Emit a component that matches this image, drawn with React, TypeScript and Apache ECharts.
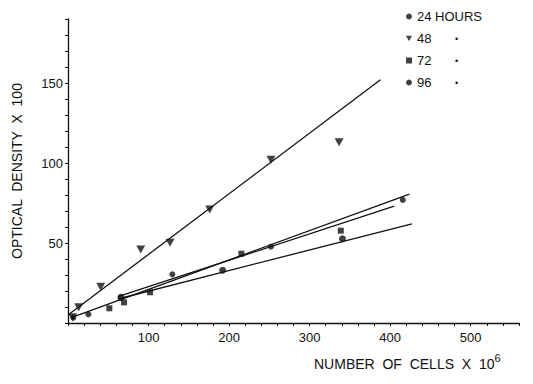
import React, { useEffect, useRef } from "react";
import * as echarts from "echarts";

// Series data: [cells x 10^6, optical density x 100]
const h24X = [6.6, 25.3, 129.6, 252, 415.7];
const h24Y = [3.3, 5.4, 30.4, 47.7, 76.9];
const h48X = [5.8, 13.3, 40.6, 90.3, 126.7, 176, 252, 336.6];
const h48Y = [3.6, 9.8, 22.7, 46, 50.2, 71, 102, 113];
const h72X = [51.3, 69.6, 101.9, 215.3, 338.7];
const h72Y = [9.2, 12.9, 19.2, 43.3, 57.7];
const h96X = [65.8, 192, 340.8];
const h96Y = [16, 33, 52.7];

// Fitted lines (endpoints)
const fit24X = [5, 424];
const fit24Y = [3.5, 80.6];
const fit48X = [0, 388];
const fit48Y = [5, 152];
const fit72X = [62, 405];
const fit72Y = [16.5, 73];
const fit96X = [62, 427];
const fit96Y = [15, 62];

const legendNames = ["24 HOURS", "48", "72", "96"];
const xLabels = [100, 200, 300, 400, 500];
const yLabels = [50, 100, 150];

const zip = (xs: number[], ys: number[]) => xs.map((x, i) => [x, ys[i]]);

const FONT = "Liberation Sans";
const INK = "#111";
const TRI = "path://M0,0L10,0L5,9Z";

export default function App() {
  const ref = useRef<HTMLDivElement>(null);
  useEffect(() => {
    if (!ref.current) return;
    const chart = echarts.init(ref.current, null, { renderer: "svg" });
    const fitLine = (name: string, xs: number[], ys: number[]) => ({
      name,
      type: "line",
      data: zip(xs, ys),
      symbol: "none",
      lineStyle: { color: INK, width: 1.3 },
      silent: true,
      z: 1,
    });
    chart.setOption({
      animation: false,
      backgroundColor: "#fff",
      textStyle: { fontFamily: FONT },
      grid: { left: 68, top: 19, width: 451, height: 304 },
      legend: {
        orient: "vertical",
        left: 401,
        top: 5,
        itemWidth: 6,
        itemHeight: 6,
        itemGap: 9,
        itemTextGap: 3,
        itemStyle: { color: INK },
        data: [
          { name: legendNames[0], icon: "circle" },
          { name: legendNames[1], icon: TRI },
          { name: legendNames[2], icon: "rect" },
          { name: legendNames[3], icon: "circle" },
        ],
        formatter: (name: string) =>
          name === legendNames[0] ? `{n|${name}}` : `{m|${name}}{d|•}`,
        textStyle: {
          color: INK,
          fontSize: 13,
          fontFamily: FONT,
          rich: {
            n: { fontSize: 13, color: INK, fontFamily: FONT },
            m: { fontSize: 13, color: INK, fontFamily: FONT, width: 38 },
            d: { fontSize: 9, color: INK, fontFamily: FONT },
          },
        },
      },
      xAxis: {
        type: "value",
        min: 0,
        max: 560,
        interval: 20,
        splitLine: { show: false },
        axisLine: { lineStyle: { color: INK, width: 1.3 } },
        axisTick: { show: true, length: 3, lineStyle: { color: INK } },
        axisLabel: {
          color: INK,
          fontSize: 13,
          fontFamily: FONT,
          margin: 8,
          formatter: (v: number) => (xLabels.includes(v) ? String(v) : ""),
        },
      },
      yAxis: {
        type: "value",
        min: 0,
        max: 190,
        interval: 10,
        splitLine: { show: false },
        axisLine: { show: true, lineStyle: { color: INK, width: 1.3 } },
        axisTick: { show: true, length: 3, lineStyle: { color: INK } },
        axisLabel: {
          color: INK,
          fontSize: 13,
          fontFamily: FONT,
          margin: 5,
          formatter: (v: number) => (yLabels.includes(v) ? String(v) : ""),
        },
        name: "OPTICAL  DENSITY  X  100",
        nameLocation: "middle",
        nameGap: 44,
        nameTextStyle: { color: INK, fontSize: 14, fontFamily: FONT },
      },
      graphic: [
        {
          type: "text",
          left: 314,
          top: 352,
          style: {
            text: "{a|NUMBER  OF  CELLS  X  10}{s|6}",
            rich: {
              a: { fontSize: 14, fontFamily: FONT, fill: INK, verticalAlign: "bottom" },
              s: { fontSize: 11, fontFamily: FONT, fill: INK, verticalAlign: "top", padding: [0, 0, 8, 0] },
            },
          },
        },
      ],
      series: [
        fitLine("fit24", fit24X, fit24Y),
        fitLine("fit48", fit48X, fit48Y),
        fitLine("fit72", fit72X, fit72Y),
        fitLine("fit96", fit96X, fit96Y),
        {
          name: legendNames[0],
          type: "scatter",
          data: zip(h24X, h24Y),
          symbol: "circle",
          symbolSize: 6,
          itemStyle: { color: INK },
          z: 3,
        },
        {
          name: legendNames[1],
          type: "scatter",
          data: zip(h48X, h48Y),
          symbol: TRI,
          symbolSize: [9, 8],
          itemStyle: { color: INK },
          z: 3,
        },
        {
          name: legendNames[2],
          type: "scatter",
          data: zip(h72X, h72Y),
          symbol: "rect",
          symbolSize: 6,
          itemStyle: { color: INK },
          z: 3,
        },
        {
          name: legendNames[3],
          type: "scatter",
          data: zip(h96X, h96Y),
          symbol: "circle",
          symbolSize: 7,
          itemStyle: { color: INK },
          z: 3,
        },
      ],
    });
    return () => chart.dispose();
  }, []);
  return (
    <div
      ref={ref}
      style={{ position: "absolute", left: 0, top: 0, width: 533, height: 384 }}
    />
  );
}
